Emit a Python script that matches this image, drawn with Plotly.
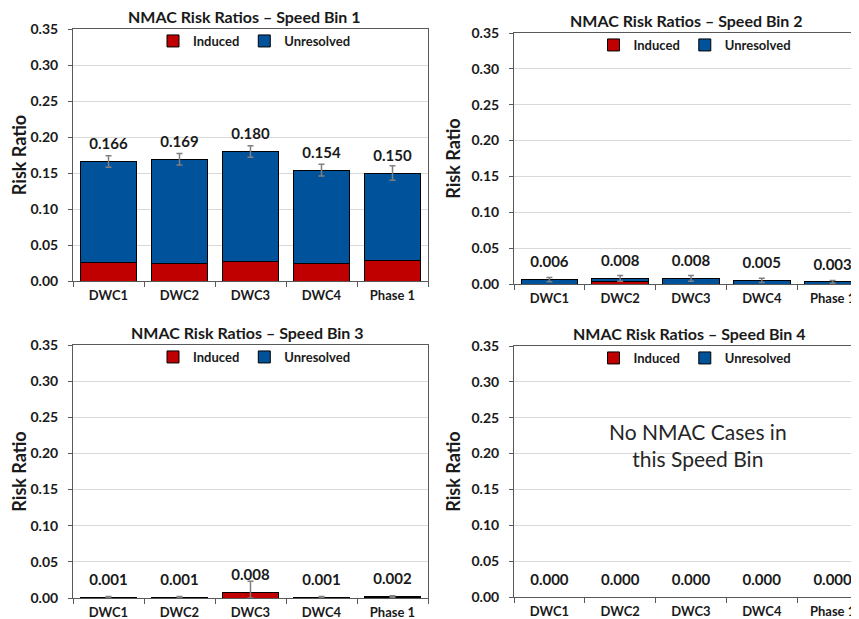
import plotly.graph_objects as go
from plotly.subplots import make_subplots

categories = ["DWC1", "DWC2", "DWC3", "DWC4", "Phase 1"]

bin1_total = [0.166, 0.169, 0.180, 0.154, 0.150]
bin1_induced = [0.026, 0.025, 0.027, 0.025, 0.029]
bin1_err_plus = [0.008, 0.008, 0.008, 0.008, 0.010]
bin1_err_minus = [0.008, 0.008, 0.008, 0.008, 0.010]

bin2_total = [0.006, 0.008, 0.008, 0.005, 0.003]
bin2_induced = [0.0, 0.003, 0.0, 0.0, 0.0]
bin2_err_plus = [0.003, 0.004, 0.004, 0.003, 0.002]
bin2_err_minus = [0.003, 0.004, 0.004, 0.003, 0.002]

bin3_total = [0.001, 0.001, 0.008, 0.001, 0.002]
bin3_induced = [0.0, 0.0, 0.008, 0.0, 0.001]
bin3_err_plus = [0.001, 0.001, 0.015, 0.001, 0.001]
bin3_err_minus = [0.001, 0.001, 0.008, 0.001, 0.001]

bin4_total = [0.0, 0.0, 0.0, 0.0, 0.0]
bin4_induced = [0.0, 0.0, 0.0, 0.0, 0.0]
bin4_err_plus = [0.0, 0.0, 0.0, 0.0, 0.0]
bin4_err_minus = [0.0, 0.0, 0.0, 0.0, 0.0]

titles = ["NMAC Risk Ratios – Speed Bin 1", "NMAC Risk Ratios – Speed Bin 2",
          "NMAC Risk Ratios – Speed Bin 3", "NMAC Risk Ratios – Speed Bin 4"]

bins = [
    (bin1_total, bin1_induced, bin1_err_plus, bin1_err_minus),
    (bin2_total, bin2_induced, bin2_err_plus, bin2_err_minus),
    (bin3_total, bin3_induced, bin3_err_plus, bin3_err_minus),
    (bin4_total, bin4_induced, bin4_err_plus, bin4_err_minus),
]

FONT = "Lato"
RED = "#C00000"
BLUE = "#00529B"
TXT = "#1a1a1a"

# panel boxes in page pixels (left, right, top, bottom); the page body has an 8px margin.
# the right-hand panels run past the window edge, as in the cropped original
W, H = 880, 619
OFF = 8
panels = [(73, 428, 29, 281), (514, 868, 33, 284), (73, 428, 345, 598), (514, 868, 346, 597)]
title_dx = [-6, -5, -3, -2]
cells = [(1, 1), (1, 2), (2, 1), (2, 2)]

fig = make_subplots(rows=2, cols=2)

for i, (total, induced, ep, em) in enumerate(bins):
    row, col = cells[i]
    leg = "legend" if i == 0 else f"legend{i + 1}"
    unresolved = [t - d for t, d in zip(total, induced)]
    fig.add_trace(go.Bar(x=categories, y=induced, name="Induced", marker_color=RED,
                         marker_line=dict(color="black", width=1), width=0.8,
                         legend=leg), row=row, col=col)
    fig.add_trace(go.Bar(x=categories, y=unresolved, name="Unresolved", marker_color=BLUE,
                         marker_line=dict(color="black", width=1), width=0.8,
                         legend=leg), row=row, col=col)
    fig.add_trace(go.Scatter(x=categories, y=total, mode="markers+text",
                             marker=dict(size=12, color="rgba(0,0,0,0)"),
                             text=[f"<b>{v:.3f}</b>" for v in total], textposition="top center",
                             textfont=dict(family=FONT, size=15, color=TXT),
                             error_y=dict(type="data", array=ep, arrayminus=em,
                                          color="#808080", thickness=1.5, width=3,
                                          visible=(i != 3)),
                             showlegend=False, hoverinfo="skip"), row=row, col=col)

layout = dict(barmode="stack", width=W, height=H, showlegend=True,
              margin=dict(l=0, r=0, t=0, b=0),
              plot_bgcolor="white", paper_bgcolor="white",
              font=dict(family=FONT, color=TXT))

annotations = []
for i, (l, r, t, b) in enumerate(panels):
    l, r, t, b = l - OFF, r - OFF, t - OFF, b - OFF
    sfx = "" if i == 0 else str(i + 1)
    x0, x1 = l / W, r / W
    y0, y1 = 1 - b / H, 1 - t / H
    xc = (x0 + x1) / 2
    layout["xaxis" + sfx] = dict(domain=[x0, x1], showline=True, mirror=True,
                                 automargin=False,
                                 linecolor="#595959", linewidth=1,
                                 ticks="outside", tickson="boundaries", ticklen=5,
                                 tickcolor="#595959", ticklabelstandoff=2,
                                 tickfont=dict(family=FONT, size=13, color=TXT, weight="bold"),
                                 showgrid=False)
    layout["yaxis" + sfx] = dict(domain=[y0, y1], range=[0, 0.35], dtick=0.05,
                                 automargin=False,
                                 tickformat=".2f", showline=True, mirror=True,
                                 linecolor="#595959", linewidth=1,
                                 ticks="outside", ticklen=4, tickcolor="#595959",
                                 ticklabelstandoff=7,
                                 showgrid=True, gridcolor="#D9D9D9", gridwidth=1,
                                 zeroline=False,
                                 tickfont=dict(family=FONT, size=14, color=TXT, weight="bold"),
                                 title=dict(text="Risk Ratio", standoff=6,
                                            font=dict(family=FONT, size=18, color=TXT,
                                                      weight="bold")))
    layout["legend" + sfx] = dict(x=xc + 4 / W, y=1 - (t + 12) / H,
                                  xanchor="center", yanchor="middle",
                                  orientation="h", traceorder="normal",
                                  bgcolor="rgba(0,0,0,0)",
                                  font=dict(family=FONT, size=13, color=TXT, weight="bold"))
    annotations.append(dict(text=f"<b>{titles[i]}</b>", x=xc + title_dx[i] / W, y=y1,
                            xref="paper", yref="paper", xanchor="center", yanchor="bottom",
                            yshift=1, showarrow=False,
                            font=dict(family=FONT, size=16, color=TXT)))

annotations.append(dict(text="No NMAC Cases in<br>this Speed Bin", x="DWC3", y=0.212,
                        xref="x4", yref="y4", xshift=7, showarrow=False,
                        font=dict(family=FONT, size=21, color="#262626")))
layout["annotations"] = annotations

fig.update_layout(**layout)

fig.write_html("out.html")
